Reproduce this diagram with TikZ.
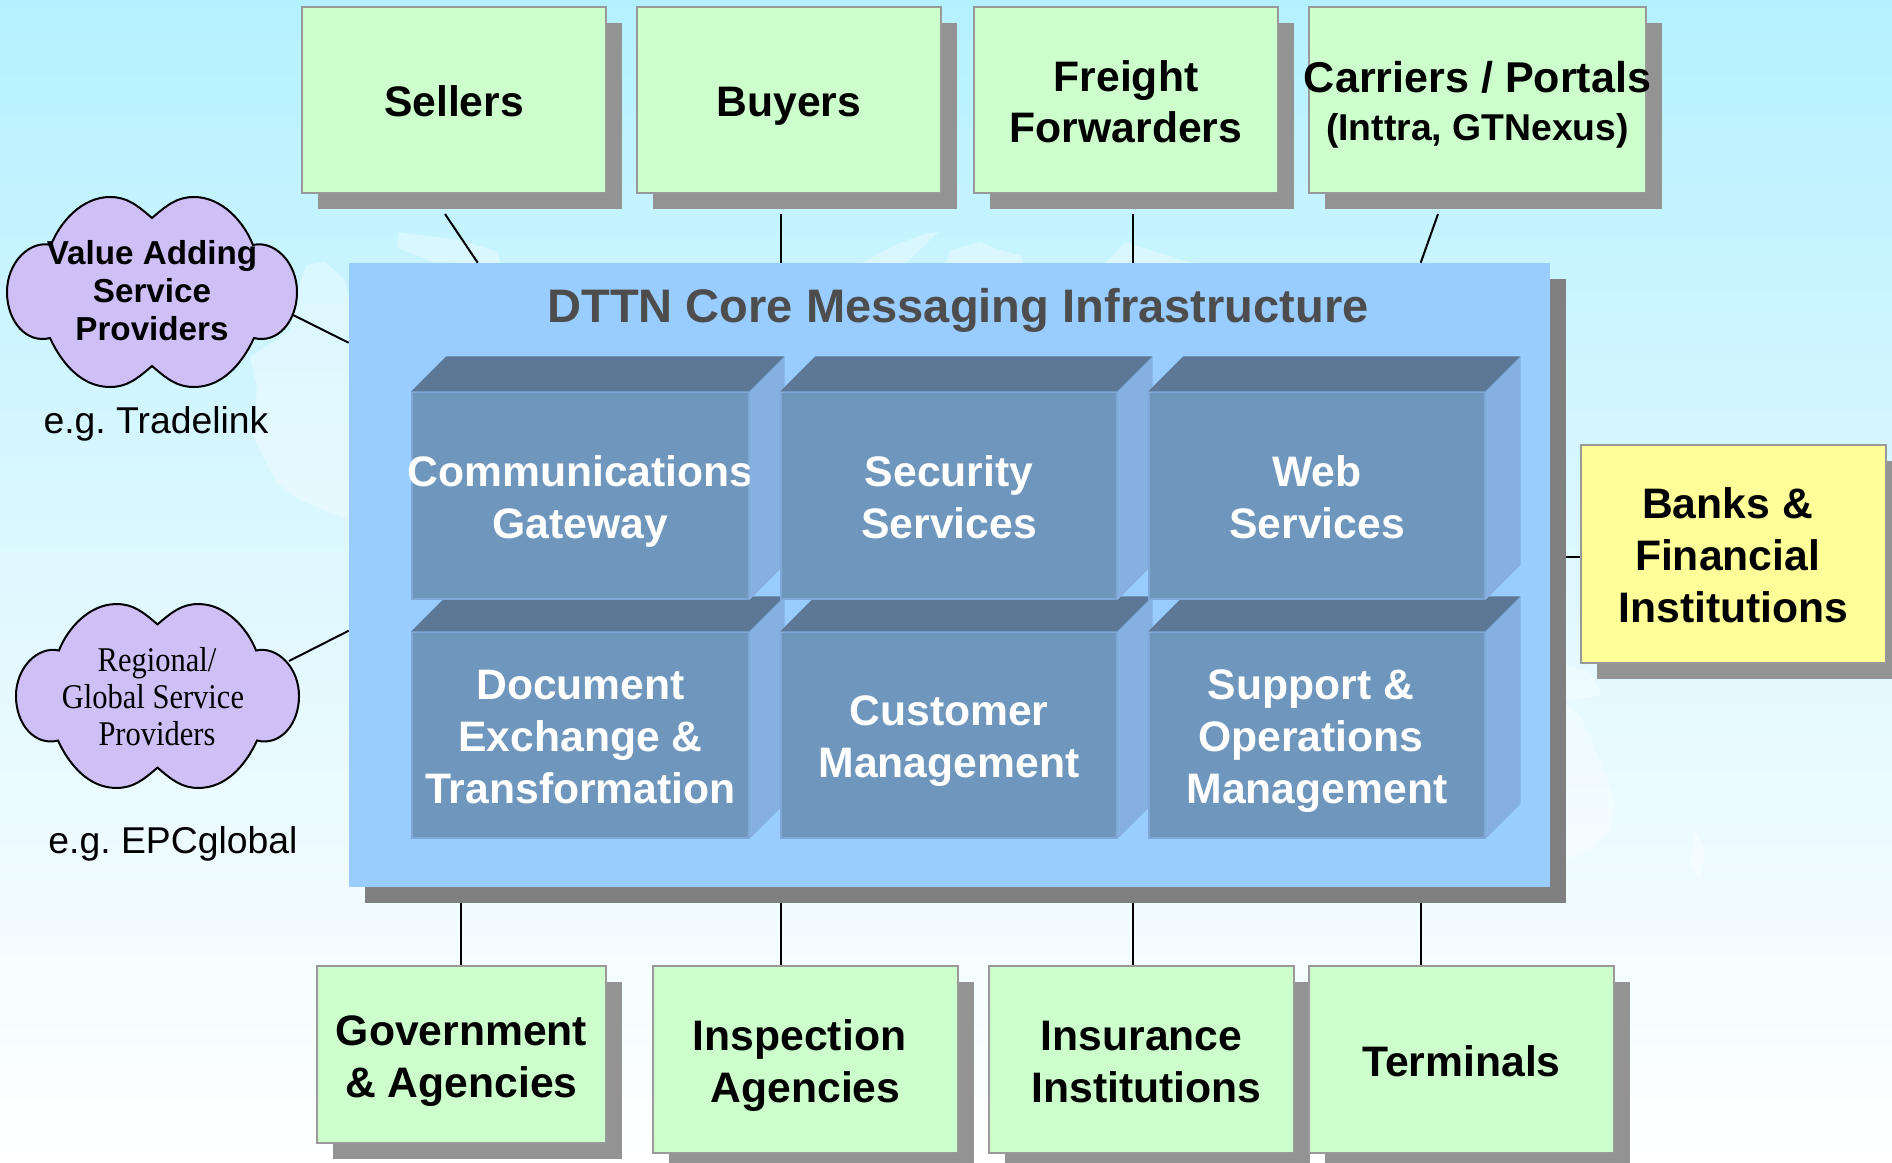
\documentclass[tikz,border=0pt]{standalone}
\usepackage{fontspec}
\setmainfont{Liberation Sans}
\newfontfamily\cloudserif[FakeStretch=0.88]{Liberation Serif}
\usetikzlibrary{shadows,calc}
\definecolor{skytop}{HTML}{B4F1FF}
\definecolor{skymid}{HTML}{DFF8FF}
\definecolor{greenfill}{HTML}{CCFFCC}
\definecolor{yellowfill}{HTML}{FFFF99}
\definecolor{boxedge}{HTML}{999999}
\definecolor{boxshade}{HTML}{939393}
\definecolor{coreshade}{HTML}{808080}
\definecolor{corefill}{HTML}{99CCFF}
\definecolor{cubefront}{HTML}{6F96BC}
\definecolor{cubetopc}{HTML}{5C7896}
\definecolor{cubesidec}{HTML}{85B0E0}
\definecolor{cubeline}{HTML}{7FA8D8}
\definecolor{cloudfill}{HTML}{CEBFF6}
\definecolor{titlegrey}{HTML}{4D4D4D}
\newcommand{\fl}{\rule{0pt}{32.2pt}}
\newcommand{\ld}{\rule[-7pt]{0pt}{7pt}}
\tikzset{
  boxat/.style n args={4}{minimum width={(#3-#1)*0.75pt},minimum height={(#4-#2)*0.75pt},at={({(#1+#3)/2},{(#2+#4)/2})}},
  boxtext/.style={inner sep=0pt,align=center,font=\bfseries\fontsize{32}{39}\selectfont},
  partybox/.style={boxtext,draw=boxedge,line width=2pt,fill=greenfill,
    general shadow={shadow xshift=12pt,shadow yshift=-12pt,fill=boxshade}},
  bankbox/.style={partybox,fill=yellowfill},
  corebox/.style={inner sep=0pt,fill=corefill,general shadow={shadow xshift=12pt,shadow yshift=-12pt,fill=coreshade}},
  cubebox/.style={boxtext,text=white,fill=cubefront,draw=cubeline,line width=1pt},
  cubetop/.style={fill=cubetopc},
  cubeside/.style={fill=cubesidec},
  conn/.style={draw=black,line width=1.5pt},
  cloudshape/.style={draw=black,line width=1.5pt,fill=cloudfill},
  mapland/.style={fill=white,fill opacity=0.35},
  cloudtexta/.style={align=center,inner sep=0pt,font=\bfseries\fontsize{24.9}{28.5}\selectfont},
  cloudtextb/.style={align=center,inner sep=0pt,font=\cloudserif\fontsize{26}{27.75}\selectfont},
  eglabel/.style={inner sep=0pt,anchor=base,font=\fontsize{28}{34}\selectfont},
  coretitle/.style={inner sep=0pt,anchor=base,text=titlegrey,font=\bfseries\fontsize{35.3}{42}\selectfont},
}
\newcommand{\cloudpath}{(0,-74) .. controls (-15,-87) and (-25,-95) .. (-42,-95)
  .. controls (-70,-95) and (-92,-70) .. (-101,-47)
  .. controls (-122,-52) and (-145,-30) .. (-145,0)
  .. controls (-145,30) and (-125,52) .. (-102,46)
  .. controls (-90,72) and (-70,95) .. (-42,95)
  .. controls (-25,95) and (-15,87) .. (0,74)
  .. controls (15,87) and (25,95) .. (42,95)
  .. controls (70,95) and (90,72) .. (102,46)
  .. controls (125,52) and (145,30) .. (145,0)
  .. controls (145,-30) and (122,-52) .. (101,-47)
  .. controls (92,-70) and (70,-95) .. (42,-95)
  .. controls (25,-95) and (15,-87) .. (0,-74) -- cycle}
\newcommand{\cubefaces}[1]{%
  \fill[cubetop] (#1.north west) -- ++(35,-35) -- ([shift={(35,-35)}]#1.north east) -- (#1.north east) -- cycle;
  \fill[cubeside] (#1.north east) -- ++(35,-35) -- ([shift={(35,-35)}]#1.south east) -- (#1.south east) -- cycle;
}
\begin{document}
\begin{tikzpicture}[x=0.75pt,y=-0.75pt]
\useasboundingbox (0,0) rectangle (1892,1163);
\clip (0,0) rectangle (1892,1163);
% background
\shade[top color=skytop,bottom color=skymid] (0,0) rectangle (1892,580);
\shade[top color=skymid,bottom color=white] (0,580) rectangle (1892,1163);
% faint world map
\fill[mapland] (306,265) -- (325,262) -- (345,280) -- (349,300) -- (349,520) -- (300,500) -- (277,483) -- (253,437) -- (257,387) -- (250,357) -- (290,330) -- (298,290) -- cycle;
\fill[mapland] (399,232) -- (397,248) -- (433,262) -- (500,264) -- (498,252) -- (460,240) -- cycle;
\fill[mapland] (938,232) -- (925,234) -- (895,245) -- (860,264) -- (905,264) -- (925,245) -- cycle;
\fill[mapland] (946,264) -- (950,250) -- (980,242) -- (1000,250) -- (1022,256) -- (1022,264) -- cycle;
\fill[mapland] (1105,264) -- (1125,242) -- (1150,250) -- (1190,262) -- (1210,264) -- cycle;
\fill[mapland] (1566,665) -- (1590,672) -- (1602,695) -- (1575,700) -- (1566,700) -- cycle;
\fill[mapland] (1566,705) -- (1580,715) -- (1600,760) -- (1615,800) -- (1610,830) -- (1590,850) -- (1566,860) -- cycle;
\fill[mapland] (1695,830) -- (1705,850) -- (1700,880) -- (1690,865) -- cycle;
% core
\node[corebox,boxat={349}{263}{1550}{887}] (core) {};
\node[coretitle] (coreTitle) at (958,322) {DTTN Core Messaging Infrastructure};
% lower row of cubes first
\node[cubebox,boxat={412}{632}{749}{838}] (docx) {\fl Document\\Exchange \&\\Transformation\ld};
\cubefaces{docx}
\node[cubebox,boxat={781}{632}{1117}{838}] (cust) {\fl Customer\\Management\ld};
\cubefaces{cust}
\node[cubebox,boxat={1149}{632}{1485}{838}] (supp) {\fl Support \&\kern9pt\\Operations\kern9pt\\Management\ld};
\cubefaces{supp}
% upper row
\node[cubebox,boxat={412}{392}{749}{599}] (comm) {\fl\makebox[0pt]{Communications}\\Gateway\ld};
\cubefaces{comm}
\node[cubebox,boxat={781}{392}{1117}{599}] (secu) {\fl Security\\Services\ld};
\cubefaces{secu}
\node[cubebox,boxat={1149}{392}{1485}{599}] (webs) {\fl Web\\Services\ld};
\cubefaces{webs}
% top boxes
\node[partybox,boxat={302}{7}{606}{193}] (sellers) {\fl Sellers\ld};
\node[partybox,boxat={637}{7}{941}{193}] (buyers) {\fl Buyers\ld};
\node[partybox,boxat={974}{7}{1278}{193},font=\bfseries\fontsize{32}{38}\selectfont] (freight) {\fl Freight\\Forwarders\ld};
\node[partybox,boxat={1309}{7}{1646}{193},font=\bfseries\fontsize{32.3}{36}\selectfont] (carriers) {\fl\makebox[0pt]{Carriers / Portals}\\\fontsize{28}{34}\selectfont (Inttra, GTNexus)\ld};
% right box
\node[bankbox,boxat={1581}{445}{1886}{663}] (banks) {\fl Banks \&\kern9pt\\Financial\kern9pt\\Institutions\ld};
% bottom boxes
\node[partybox,boxat={317}{966}{606}{1143}] (gov) {\fl Government\\\& Agencies\ld};
\node[partybox,boxat={653}{966}{958}{1153}] (insp) {\fl Inspection\kern9pt\\Agencies\ld};
\node[partybox,boxat={989}{966}{1294}{1153}] (insu) {\fl Insurance\\\kern7.5pt Institutions\ld};
\node[partybox,boxat={1309}{966}{1614}{1153}] (term) {\fl Terminals\ld};
% clouds
\draw[cloudshape,shift={(152,292)}] \cloudpath;
\node[cloudtexta] (vas) at (152,291) {Value Adding\\Service\\Providers};
\draw[cloudshape,shift={(157.5,696)},xscale=0.976,yscale=0.968] \cloudpath;
\node[cloudtextb] (regional) at (157,697) {Regional/\\Global Service\kern6pt\\Providers};
\node[eglabel] (tradelink) at (156,433) {e.g.\ Tradelink};
\node[eglabel] (epc) at (173,853) {e.g.\ EPCglobal};
% connector ends
\coordinate (sellersEnd) at (445,214);
\coordinate (buyersEnd) at (781,214);
\coordinate (freightEnd) at (1133,214);
\coordinate (carriersEnd) at (1438,214);
\coordinate (vasEnd) at (293,315);
\coordinate (regionalEnd) at (289,661);
\path ($(core.south west)+(112,16)$) coordinate (govEnd);
\path ($(core.south west)+(432,16)$) coordinate (inspEnd);
\path ($(core.south west)+(784,16)$) coordinate (insuEnd);
\path ($(core.south west)+(1072,16)$) coordinate (termEnd);
\path ($(core.north east)+(16,294)$) coordinate (banksEnd);
% connectors
\draw[conn] (sellersEnd) -- ($(core.north west)+(129,0)$);
\draw[conn] (buyersEnd) -- (buyersEnd |- core.north);
\draw[conn] (freightEnd) -- (freightEnd |- core.north);
\draw[conn] (carriersEnd) -- ($(core.north west)+(1072,0)$);
\draw[conn] (vasEnd) -- ($(core.north west)+(0,80)$);
\draw[conn] (regionalEnd) -- ($(core.north west)+(0,368)$);
\draw[conn] (banksEnd) -- (banksEnd -| banks.west);
\draw[conn] (govEnd) -- (govEnd |- gov.north);
\draw[conn] (inspEnd) -- (inspEnd |- insp.north);
\draw[conn] (insuEnd) -- (insuEnd |- insu.north);
\draw[conn] (termEnd) -- (termEnd |- term.north);
\end{tikzpicture}
\end{document}
